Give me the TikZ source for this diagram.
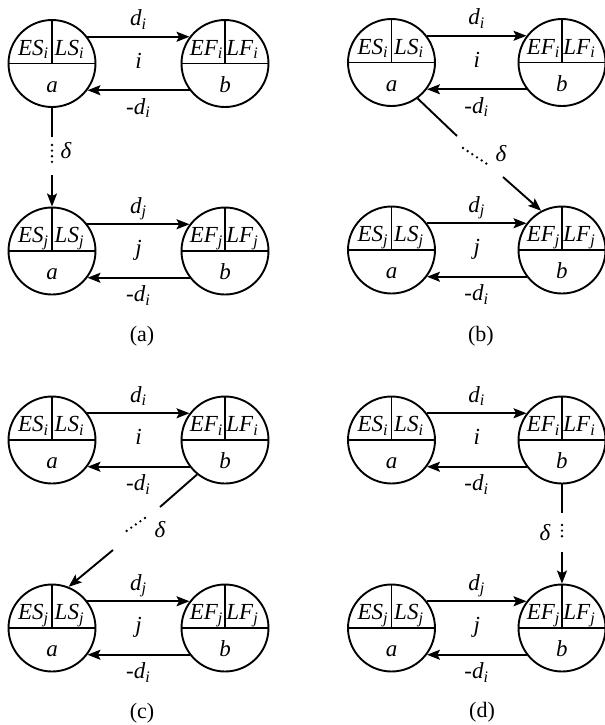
\documentclass[tikz,border=0pt]{standalone}
\usepackage{fontspec}
\setmainfont{Liberation Serif}
\usepackage{tikz}
\usetikzlibrary{calc, arrows.meta}

\begin{document}
\begin{tikzpicture}[
    x=0.5pt, y=-0.5pt,
    event/.style={
        circle,
        draw,
        line width=0.95pt,
        minimum size=43.5pt,
        inner sep=0pt,
        path picture={
            \draw[line width=0.95pt] (path picture bounding box.west) -- (path picture bounding box.east);
            \draw[line width=0.95pt] (path picture bounding box.north) -- (path picture bounding box.center);
        },
    },
    lbl/.style={font=\fontsize{11.5}{13}\selectfont\itshape, inner sep=0pt, anchor=base},
    lt/.style={lbl, xshift=-9.2pt, yshift=4.25pt},
    rt/.style={lbl, xshift=8.8pt, yshift=4.25pt},
    bt/.style={lbl, yshift=-14.25pt},
    dl/.style={lbl, yshift=5.5pt},
    nl/.style={lbl, yshift=-12pt},
    mid/.style={lbl, yshift=-2.25pt},
    dlt/.style={font=\fontsize{11.5}{13}\selectfont\itshape, inner sep=0pt},
    caption/.style={font=\fontsize{11}{13}\selectfont, inner sep=0pt},
    act/.style={-{Stealth[length=6.5pt, width=5pt, inset=1.3pt]}, line width=0.95pt},
    lag/.style={line width=0.95pt},
    gap/.style={line width=1.3pt, line cap=round, dash pattern=on 0pt off 2.8pt}
]
\useasboundingbox (0,0) rectangle (605,725);

% (a)
\node[event] (ia1) at (52,63.5) {};
\node[lt] (ia1-l) at (ia1) {ES\textsubscript{i}};
\node[rt] (ia1-r) at (ia1) {LS\textsubscript{i}};
\node[bt] (ia1-b) at (ia1) {a};
\node[event] (ib1) at (225,63.5) {};
\node[lt] (ib1-l) at (ib1) {EF\textsubscript{i}};
\node[rt] (ib1-r) at (ib1) {LF\textsubscript{i}};
\node[bt] (ib1-b) at (ib1) {b};
\node[event] (ja1) at (52,251) {};
\node[lt] (ja1-l) at (ja1) {ES\textsubscript{j}};
\node[rt] (ja1-r) at (ja1) {LS\textsubscript{j}};
\node[bt] (ja1-b) at (ja1) {a};
\node[event] (jb1) at (225,251) {};
\node[lt] (jb1-l) at (jb1) {EF\textsubscript{j}};
\node[rt] (jb1-r) at (jb1) {LF\textsubscript{j}};
\node[bt] (jb1-b) at (jb1) {b};

\draw[act] (ia1.37) -- node[dl] (di1) {d\textsubscript{i}} (ib1.143);
\draw[act] (ib1.217) -- node[nl] (ndi1) {-d\textsubscript{i}} (ia1.323);
\node[mid] (i1) at ($(ia1)!.5!(ib1)$) {i};
\draw[act] (ja1.37) -- node[dl] (dj1) {d\textsubscript{j}} (jb1.143);
\draw[act] (jb1.217) -- node[nl] (ndj1) {-d\textsubscript{i}} (ja1.323);
\node[mid] (j1) at ($(ja1)!.5!(jb1)$) {j};

\coordinate (s1) at (52,137);
\coordinate (t1) at (52,145);
\coordinate (u1) at (52,164);
\coordinate (v1) at (52,175);
\draw[lag] (ia1) -- (s1);
\draw[gap] (t1) -- (u1);
\draw[act] (v1) -- (ja1);
\node[dlt] (dt1) at (66,151) {δ};
\node[caption] (capa) at (142,336) {(a)};

% (b)
\node[event] (ia2) at (391.5,62.5) {};
\node[lt] (ia2-l) at (ia2) {ES\textsubscript{i}};
\node[rt] (ia2-r) at (ia2) {LS\textsubscript{i}};
\node[bt] (ia2-b) at (ia2) {a};
\node[event] (ib2) at (562,62.5) {};
\node[lt] (ib2-l) at (ib2) {EF\textsubscript{i}};
\node[rt] (ib2-r) at (ib2) {LF\textsubscript{i}};
\node[bt] (ib2-b) at (ib2) {b};
\node[event] (ja2) at (391.5,250) {};
\node[lt] (ja2-l) at (ja2) {ES\textsubscript{j}};
\node[rt] (ja2-r) at (ja2) {LS\textsubscript{j}};
\node[bt] (ja2-b) at (ja2) {a};
\node[event] (jb2) at (562,250) {};
\node[lt] (jb2-l) at (jb2) {EF\textsubscript{j}};
\node[rt] (jb2-r) at (jb2) {LF\textsubscript{j}};
\node[bt] (jb2-b) at (jb2) {b};

\draw[act] (ia2.37) -- node[dl] (di2) {d\textsubscript{i}} (ib2.143);
\draw[act] (ib2.217) -- node[nl] (ndi2) {-d\textsubscript{i}} (ia2.323);
\node[mid] (i2) at ($(ia2)!.5!(ib2)$) {i};
\draw[act] (ja2.37) -- node[dl] (dj2) {d\textsubscript{j}} (jb2.143);
\draw[act] (jb2.217) -- node[nl] (ndj2) {-d\textsubscript{i}} (ja2.323);
\node[mid] (j2) at ($(ja2)!.5!(jb2)$) {j};

\coordinate (s2) at (457,136);
\coordinate (t2) at (463,148);
\coordinate (u2) at (490,166);
\coordinate (v2) at (503,177);
\draw[lag] (ia2.306) -- (s2);
\draw[gap] (t2) -- (u2);
\draw[act] (v2) -- (jb2.118);
\node[dlt] (dt2) at (501,154) {δ};
\node[caption] (capb) at (481,336) {(b)};

% (c)
\node[event] (ia3) at (52,440) {};
\node[lt] (ia3-l) at (ia3) {ES\textsubscript{i}};
\node[rt] (ia3-r) at (ia3) {LS\textsubscript{i}};
\node[bt] (ia3-b) at (ia3) {a};
\node[event] (ib3) at (225,440) {};
\node[lt] (ib3-l) at (ib3) {EF\textsubscript{i}};
\node[rt] (ib3-r) at (ib3) {LF\textsubscript{i}};
\node[bt] (ib3-b) at (ib3) {b};
\node[event] (ja3) at (52,628) {};
\node[lt] (ja3-l) at (ja3) {ES\textsubscript{j}};
\node[rt] (ja3-r) at (ja3) {LS\textsubscript{j}};
\node[bt] (ja3-b) at (ja3) {a};
\node[event] (jb3) at (225,628) {};
\node[lt] (jb3-l) at (jb3) {EF\textsubscript{j}};
\node[rt] (jb3-r) at (jb3) {LF\textsubscript{j}};
\node[bt] (jb3-b) at (jb3) {b};

\draw[act] (ia3.37) -- node[dl] (di3) {d\textsubscript{i}} (ib3.143);
\draw[act] (ib3.217) -- node[nl] (ndi3) {-d\textsubscript{i}} (ia3.323);
\node[mid] (i3) at ($(ia3)!.5!(ib3)$) {i};
\draw[act] (ja3.37) -- node[dl] (dj3) {d\textsubscript{j}} (jb3.143);
\draw[act] (jb3.217) -- node[nl] (ndj3) {-d\textsubscript{i}} (ja3.323);
\node[mid] (j3) at ($(ja3)!.5!(jb3)$) {j};

\coordinate (s3) at (160,507);
\coordinate (t3) at (145,518);
\coordinate (u3) at (125,532);
\coordinate (v3) at (113,550);
\draw[lag] (ib3.231) -- (s3);
\draw[gap] (t3) -- (u3);
\draw[act] (v3) -- (ja3.68);
\node[dlt] (dt3) at (160,530) {δ};
\node[caption] (capc) at (142,713) {(c)};

% (d)
\node[event] (ia4) at (391.5,440) {};
\node[lt] (ia4-l) at (ia4) {ES\textsubscript{i}};
\node[rt] (ia4-r) at (ia4) {LS\textsubscript{i}};
\node[bt] (ia4-b) at (ia4) {a};
\node[event] (ib4) at (562,440) {};
\node[lt] (ib4-l) at (ib4) {EF\textsubscript{i}};
\node[rt] (ib4-r) at (ib4) {LF\textsubscript{i}};
\node[bt] (ib4-b) at (ib4) {b};
\node[event] (ja4) at (391.5,628) {};
\node[lt] (ja4-l) at (ja4) {ES\textsubscript{j}};
\node[rt] (ja4-r) at (ja4) {LS\textsubscript{j}};
\node[bt] (ja4-b) at (ja4) {a};
\node[event] (jb4) at (562,628) {};
\node[lt] (jb4-l) at (jb4) {EF\textsubscript{j}};
\node[rt] (jb4-r) at (jb4) {LF\textsubscript{j}};
\node[bt] (jb4-b) at (jb4) {b};

\draw[act] (ia4.37) -- node[dl] (di4) {d\textsubscript{i}} (ib4.143);
\draw[act] (ib4.217) -- node[nl] (ndi4) {-d\textsubscript{i}} (ia4.323);
\node[mid] (i4) at ($(ia4)!.5!(ib4)$) {i};
\draw[act] (ja4.37) -- node[dl] (dj4) {d\textsubscript{j}} (jb4.143);
\draw[act] (jb4.217) -- node[nl] (ndj4) {-d\textsubscript{i}} (ja4.323);
\node[mid] (j4) at ($(ja4)!.5!(jb4)$) {j};

\coordinate (s4) at (562,513);
\coordinate (t4) at (562,525);
\coordinate (u4) at (562,541);
\coordinate (v4) at (562,552);
\draw[lag] (ib4) -- (s4);
\draw[gap] (t4) -- (u4);
\draw[act] (v4) -- (jb4);
\node[dlt] (dt4) at (545,533) {δ};
\node[caption] (capd) at (482,712) {(d)};
\end{tikzpicture}
\end{document}
